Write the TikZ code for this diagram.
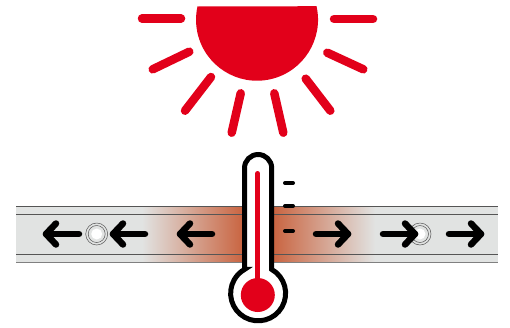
\documentclass[tikz,border=0pt]{standalone}
\usepackage{tikz}
\definecolor{SunRed}{HTML}{E2001A}
\definecolor{StripGray}{HTML}{E1E3E2}
\definecolor{Heat}{HTML}{C9633F}
\definecolor{StripLine}{HTML}{555555}
\tikzset{
  ray/.style={SunRed,line width=8.5pt,line cap=round},
  flow/.style={line width=6.5pt,line cap=round,line join=round},
  tick/.style={line width=4pt,line cap=round},
  ring/.style={StripLine,line width=.5pt}
}
\begin{document}
\begin{tikzpicture}[x=1pt,y=-1pt]
        \useasboundingbox(0,0)rectangle(510,327);
        % sun
        \fill[SunRed](197.5,6.5)--(316.5,6.2)arc(-12.8:192.8:61)--cycle;
        \foreach \xa/\ya/\xb/\yb in {142/18.5/181/18.5,334/19/373/19,152.7/69.3/189.3/51.7,327.3/52.7/363.3/69.3,185/110.7/211/77,305.7/78.7/330.3/110.7,231.7/132.7/240.7/93.3,274.3/93.3/283.3/132.7}
          \draw[ray](\xa,\ya)--(\xb,\yb);
        % strip
        \fill[StripGray](16,206)rectangle(498,262);
        \fill[left color=StripGray,right color=Heat](142,206)rectangle(244,262);
        \fill[left color=Heat,right color=StripGray](272,206)rectangle(375,262);
        \fill[Heat](244,206)rectangle(272,262);
        \foreach \y in {206,214.3,254}\draw[StripLine,line width=.8pt](16,\y)--(498,\y);
        \draw[gray,line width=1pt](16,262)--(498,262);
        % holes
        \foreach \x in {96.7,420}{
          \draw[ring](\x,234)circle(11);
          \draw[ring](\x,234)circle(8.5);
          \fill[white](\x,234)circle(5.5);}
        % arrows
        \foreach \t/\h/\b in {79/46/56,145/113/123,212/180/190,316/348/338,383/415/405,449/481/471}{
          \draw[flow](\t,234)--(\h,234);
          \draw[flow](\b,223.5)--(\h,234)--(\b,244.5);}
        % thermometer
        \draw[line width=5pt,fill=white](244.5,269.4)--(244.5,168.1)arc(180:360:13.6)--(271.7,269.4)
          arc(-60.4:240.4:27.5)--cycle;
        \draw[SunRed,line width=5pt,line cap=round](257.8,173.5)--(257.8,290);
        \fill[SunRed](257.8,295)circle(17);
        \foreach \y in {183,206,231}\draw[tick](285,\y)--(293,\y);
      \end{tikzpicture}
\end{document}
